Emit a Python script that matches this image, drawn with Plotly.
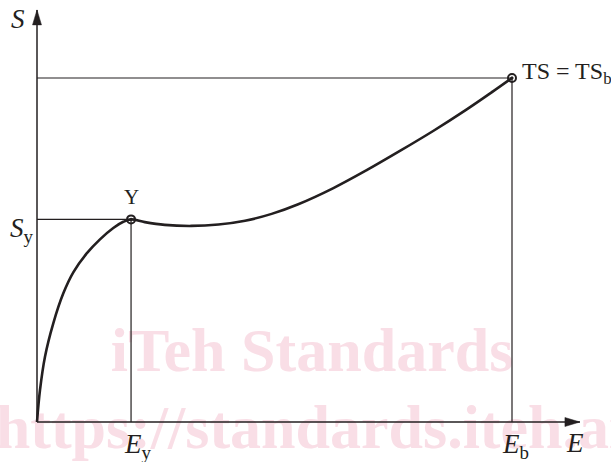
import plotly.graph_objects as go

# ---- data (strain E, stress S in relative units; E_b = 100, TS = 100) ----
strain = [0, 0.63, 1.68, 3.43, 5.54, 7.64, 10.46, 13.26, 16.06, 18.17, 19.8,
          22.7, 26.9, 32.5, 38.2, 43.8, 49.4, 55.0, 62.4, 69.4, 76.4, 83.4,
          90.4, 96.0, 100]
stress = [0, 9.3, 19.0, 28.7, 37.4, 43.5, 49.0, 53.1, 56.4, 58.2, 58.9,
          58.1, 57.3, 57.0, 57.4, 58.5, 60.5, 63.3, 68.0, 73.2, 78.8, 84.6,
          90.8, 96.1, 100]
yield_point = [19.8, 58.9]      # (E_y, S_y)
break_point = [100, 100]        # (E_b, TS)
axis_end = [114.3, 119.8]       # arrow tips of E and S axes
watermark_lines = ["iTeh Standards", "https://standards.iteh.ai"]

# ---- geometry / style ----
W, H = 611, 462
OX, OY = 37, 422            # pixel position of origin
SX, SY = 4.75, 3.44         # pixels per unit
x_range = [-OX / SX, (W - OX) / SX]
y_range = [(OY - H) / SY, OY / SY]


def px2E(px):
    return (px - OX) / SX


def py2S(py):
    return (OY - py) / SY


INK = "#231f20"
FONT = "Liberation Serif"
PINK = "#f9dee6"

fig = go.Figure()

# watermark (behind everything)
fig.add_trace(go.Scatter(
    x=[px2E(312), px2E(311)], y=[py2S(355), py2S(432)],
    mode="text", text=watermark_lines, cliponaxis=False,
    textfont=dict(family=FONT, size=62, color=PINK, weight="bold"),
    textposition="middle center", hoverinfo="skip", showlegend=False))

Ey, Sy = yield_point
Eb, TS = break_point
thin = dict(color=INK, width=1.2)
# reference lines
fig.add_trace(go.Scatter(x=[0, Eb, Eb], y=[TS, TS, 0], mode="lines",
                         line=thin, showlegend=False, hoverinfo="skip"))
fig.add_trace(go.Scatter(x=[0, Ey, Ey], y=[Sy, Sy, 0], mode="lines",
                         line=thin, showlegend=False, hoverinfo="skip"))
# axes
ax_line = dict(color=INK, width=1.5)
fig.add_trace(go.Scatter(x=[0, axis_end[0]], y=[0, 0], mode="lines",
                         line=ax_line, showlegend=False, hoverinfo="skip"))
fig.add_trace(go.Scatter(x=[0, 0], y=[0, axis_end[1]], mode="lines",
                         line=ax_line, showlegend=False, hoverinfo="skip"))
# arrowheads (15 px long, 9 px wide)
L, HW = 15, 4.5
ex, sy_ = axis_end
fig.add_trace(go.Scatter(
    x=[ex, ex - L / SX, ex - L / SX, ex], y=[0, HW / SY, -HW / SY, 0],
    mode="lines", fill="toself", fillcolor=INK, line=dict(color=INK, width=0.5),
    showlegend=False, hoverinfo="skip"))
fig.add_trace(go.Scatter(
    x=[0, HW / SX, -HW / SX, 0], y=[sy_, sy_ - L / SY, sy_ - L / SY, sy_],
    mode="lines", fill="toself", fillcolor=INK, line=dict(color=INK, width=0.5),
    showlegend=False, hoverinfo="skip"))

# stress-strain curve
fig.add_trace(go.Scatter(x=strain, y=stress, mode="lines",
                         line=dict(color=INK, width=2.6, shape="spline", smoothing=1.0),
                         showlegend=False, hoverinfo="skip"))
# marked points
fig.add_trace(go.Scatter(x=[Ey, Eb], y=[Sy, TS], mode="markers",
                         marker=dict(symbol="circle-open-dot", size=8,
                                     color=INK, line=dict(color=INK, width=2)),
                         showlegend=False, hoverinfo="skip"))

ann = []


def label(text, px, py, size, xanchor="center"):
    ann.append(dict(x=px2E(px), y=py2S(py), xref="x", yref="y", text=text,
                    showarrow=False, xanchor=xanchor, yanchor="middle",
                    font=dict(family=FONT, size=size, color=INK)))


label("<i>S</i>", 17.5, 19, 27)
label("<i>S</i><sub>y</sub>", 8, 230, 27, "left")
label("Y", 131, 197, 21)
label("TS = TS<sub>b</sub>", 520, 73, 24, "left")
label("<i>E</i><sub>y</sub>", 122, 446, 27, "left")
label("<i>E</i><sub>b</sub>", 500, 446, 27, "left")
label("<i>E</i>", 574.5, 443, 27)

fig.update_layout(
    width=W, height=H, autosize=False,
    margin=dict(l=0, r=0, t=0, b=0),
    paper_bgcolor="white", plot_bgcolor="white",
    xaxis=dict(visible=False, range=x_range, fixedrange=True),
    yaxis=dict(visible=False, range=y_range, fixedrange=True),
    annotations=ann, showlegend=False,
)

fig.write_html("out.html", config={"displayModeBar": False},
               post_script="document.body.style.margin='0';document.body.style.overflow='hidden';")
